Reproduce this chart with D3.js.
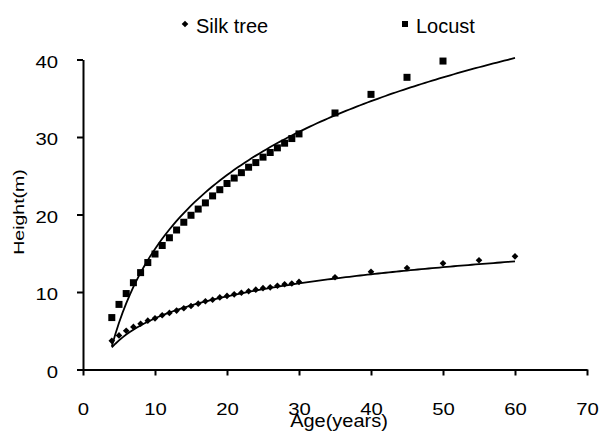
<!DOCTYPE html>
<html>
<head>
<meta charset="utf-8">
<script src="https://cdn.jsdelivr.net/npm/d3@7"></script>
<style>
  body { margin: 0; background: #fff; }
  text { font-family: "Liberation Sans", Arial, sans-serif; fill: #000; }
</style>
</head>
<body>
<div id="chart"></div>
<script>
// ages (years) and heights (m)
const silkAges = [4,5,6,7,8,9,10,11,12,13,14,15,16,17,18,19,20,21,22,23,24,25,26,27,28,29,30,35,40,45,50,55,60];
const silkHeights = [3.7,4.4,5.0,5.5,5.9,6.3,6.6,7.0,7.3,7.6,7.9,8.2,8.5,8.8,9.0,9.3,9.5,9.7,9.9,10.1,10.3,10.5,10.6,10.8,11.0,11.1,11.3,11.9,12.6,13.1,13.7,14.1,14.6];
const locustAges = [4,5,6,7,8,9,10,11,12,13,14,15,16,17,18,19,20,21,22,23,24,25,26,27,28,29,30,35,40,45,50];
const locustHeights = [6.7,8.4,9.8,11.2,12.5,13.8,14.9,16.0,17.0,18.0,19.0,19.9,20.7,21.5,22.4,23.2,24.0,24.7,25.4,26.1,26.7,27.4,28.0,28.6,29.2,29.8,30.4,33.1,35.5,37.7,39.8];
// log trendlines y = a*ln(x) + b
const silkTrend = [4.1, -2.84];
const locustTrend = [13.75, -16.1];
const trendRange = [4, 60];
const xTicks = [0,10,20,30,40,50,60,70];
const yTicks = [0,10,20,30,40];

const width = 601, height = 433;
const margin = {left: 83, right: 14, top: 59.5, bottom: 63.5};
const stretch = 1.27; // text in the picture is drawn wide

const svg = d3.select("#chart").append("svg")
  .attr("width", width)
  .attr("height", height);

const x = d3.scaleLinear().domain([0, 70]).range([margin.left, width - margin.right]);
const y = d3.scaleLinear().domain([0, 40]).range([height - margin.bottom, margin.top]);

const line = d3.line().x(d => x(d[0])).y(d => y(d[1]));
const trendX = d3.range(trendRange[0], trendRange[1] + 0.01, 0.5);

[silkTrend, locustTrend].forEach(c => {
  svg.append("path")
    .attr("d", line(trendX.map(t => [t, c[0] * Math.log(t) + c[1]])))
    .attr("fill", "none").attr("stroke", "#000").attr("stroke-width", 1.8);
});

// points
const diamond = d3.symbol().type(d3.symbolDiamond2).size(28);
svg.selectAll(".silk")
  .data(silkAges)
  .enter().append("path")
  .attr("class", "silk")
  .attr("d", diamond)
  .attr("transform", (d, i) => `translate(${x(d)},${y(silkHeights[i])})`)
  .attr("fill", "#000");

svg.selectAll(".locust")
  .data(locustAges)
  .enter().append("rect")
  .attr("class", "locust")
  .attr("x", d => x(d) - 3.5)
  .attr("y", (d, i) => y(locustHeights[i]) - 3.5)
  .attr("width", 7).attr("height", 7)
  .attr("fill", "#000");

// axes
const xAxis = svg.append("g")
  .attr("transform", `translate(0,${y(0)})`)
  .call(d3.axisBottom(x).tickValues(xTicks).tickSize(6).tickPadding(28).tickSizeOuter(0));
const yAxis = svg.append("g")
  .attr("transform", `translate(${x(0)},0)`)
  .call(d3.axisLeft(y).tickValues(yTicks).tickSize(6).tickPadding(19).tickSizeOuter(0));

[xAxis, yAxis].forEach(g => {
  g.select(".domain").attr("stroke", "#000").attr("stroke-width", 2);
  g.selectAll(".tick line").attr("stroke", "#000").attr("stroke-width", 2);
  g.selectAll(".tick text").attr("fill", "#000").style("font-size", "16px")
    .style("font-family", "'Liberation Sans', Arial, sans-serif");
});
xAxis.selectAll(".tick text").attr("transform", `scale(${stretch},1)`);
yAxis.selectAll(".tick text")
  .attr("y", 2.5)
  .attr("transform", `translate(-25,0) scale(${stretch},1) translate(25,0)`);

// axis titles
svg.append("text")
  .attr("transform", `translate(339,427) scale(1.08,1)`)
  .attr("text-anchor", "middle")
  .style("font-size", "18.5px")
  .text("Age(years)");

svg.append("text")
  .attr("transform", `translate(24,212) rotate(-90) scale(1.3,1)`)
  .attr("text-anchor", "middle")
  .style("font-size", "15px")
  .text("Height(m)");

// legend
const legendItems = [
  {label: "Silk tree", sym: "diamond", x: 185},
  {label: "Locust", sym: "square", x: 405}
];
legendItems.forEach(l => {
  if (l.sym === "diamond") {
    svg.append("path").attr("d", diamond).attr("transform", `translate(${l.x},24)`).attr("fill", "#000");
  } else {
    svg.append("rect").attr("x", l.x - 3).attr("y", 21).attr("width", 6).attr("height", 6).attr("fill", "#000");
  }
  svg.append("text")
    .attr("x", l.x + 11).attr("y", 32.5)
    .style("font-size", "20px")
    .text(l.label);
});
</script>
</body>
</html>
